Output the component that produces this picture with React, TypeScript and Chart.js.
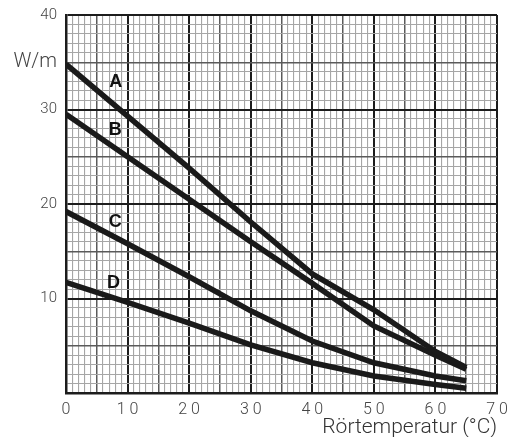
import React, { useEffect, useRef } from "react";
import { Chart, registerables } from "chart.js";

Chart.register(...registerables);

const temperatures = [0, 10, 20, 30, 40, 50, 60, 65];
const seriesA = [34.8, 29.3, 23.8, 18.1, 12.6, 8.8, 4.4, 2.7];
const seriesB = [29.5, 25.0, 20.5, 16.0, 11.6, 7.1, 4.0, 2.5];
const seriesC = [19.2, 15.8, 12.3, 8.7, 5.5, 3.2, 1.8, 1.3];
const seriesD = [11.7, 9.6, 7.4, 5.1, 3.2, 1.8, 0.9, 0.5];

const curveNames = ["A", "B", "C", "D"];
const curveLabelX = [8.1, 8.0, 8.0, 7.7];
const curveLabelY = [32.9, 27.8, 18.1, 11.6];

const xTickValues = [0, 10, 20, 30, 40, 50, 60, 70];
const xTickTexts = ["0", "1 0", "2 0", "3 0", "4 0", "5 0", "6 0", "7 0"];
const yTickValues = [10, 20, 30, 35, 40];
const yTickTexts = ["10", "20", "30", "W/m", "40"];

const xTitle = "Rörtemperatur (°C)";

const gridColor = (v: number) =>
  v % 10 === 0 ? "#1c1c1c" : v % 5 === 0 ? "#5a5a5a" : "#a6a6a6";
const gridWidth = (v: number) =>
  v % 10 === 0 ? 2 : v % 5 === 0 ? 1.5 : 1.1;

const curveLabelPlugin = {
  id: "curveLabels",
  afterDatasetsDraw(chart: any) {
    const { ctx, scales } = chart;
    ctx.save();
    ctx.font = "bold 18px 'Liberation Sans', Arial, sans-serif";
    ctx.fillStyle = "#111";
    ctx.textAlign = "center";
    ctx.textBaseline = "middle";
    curveNames.forEach((n, i) => {
      ctx.fillText(
        n,
        scales.x.getPixelForValue(curveLabelX[i]),
        scales.y.getPixelForValue(curveLabelY[i])
      );
    });
    ctx.restore();
  },
};

export default function App() {
  const ref = useRef<HTMLCanvasElement | null>(null);
  useEffect(() => {
    if (!ref.current) return;
    const mk = (d: number[]) => ({
      data: temperatures.map((t, i) => ({ x: t, y: d[i] })),
      borderColor: "#1a1a1a",
      borderWidth: 5.5,
      pointRadius: 0,
      tension: 0,
      fill: false,
    });
    const chart = new Chart(ref.current, {
      type: "line",
      data: { datasets: [mk(seriesA), mk(seriesB), mk(seriesC), mk(seriesD)] },
      options: {
        animation: false,
        responsive: true,
        maintainAspectRatio: false,
        layout: { padding: { left: 0, right: 12, top: 15, bottom: 0 } },
        plugins: { legend: { display: false }, tooltip: { enabled: false } },
        scales: {
          x: {
            type: "linear",
            min: 0,
            max: 70,
            afterFit: (s: any) => {
              s.height = 44;
              s.paddingLeft = 0;
              s.paddingRight = 0;
            },
            afterBuildTicks: (s: any) => {
              const t = [];
              for (let v = 0; v <= 70; v++) t.push({ value: v });
              s.ticks = t;
            },
            ticks: {
              autoSkip: false,
              maxRotation: 0,
              minRotation: 0,
              padding: 7,
              color: "#444",
              font: { family: "Roboto", size: 16, weight: 300 },
              callback: (v: any) => {
                const i = xTickValues.indexOf(Number(v));
                return i >= 0 ? xTickTexts[i] : "";
              },
            },
            grid: {
              drawTicks: false,
              color: (c: any) => gridColor(c.tick.value),
              lineWidth: (c: any) => gridWidth(c.tick.value),
            },
            border: { display: true, color: "#1c1c1c", width: 2.5 },
            title: {
              display: true,
              text: xTitle,
              align: "end",
              color: "#333",
              font: { family: "Roboto", size: 21, weight: 300 },
              padding: { top: 0, bottom: -3 },
            },
          },
          y: {
            type: "linear",
            min: 0,
            max: 40,
            afterFit: (s: any) => {
              s.width = 66;
              s.paddingTop = 0;
              s.paddingBottom = 0;
            },
            afterBuildTicks: (s: any) => {
              const t = [];
              for (let v = 0; v <= 40; v++) t.push({ value: v });
              s.ticks = t;
            },
            ticks: {
              autoSkip: false,
              padding: 9,
              color: "#444",
              font: (c: any) => ({
                family: "Roboto",
                size: c.tick && c.tick.value === 35 ? 20 : 15,
                weight: 300,
              }),
              callback: (v: any) => {
                const i = yTickValues.indexOf(Number(v));
                return i >= 0 ? yTickTexts[i] : "";
              },
            },
            grid: {
              drawTicks: false,
              color: (c: any) => gridColor(c.tick.value),
              lineWidth: (c: any) => gridWidth(c.tick.value),
            },
            border: { display: true, color: "#1c1c1c", width: 2.5 },
          },
        },
      },
      plugins: [curveLabelPlugin],
    });
    return () => chart.destroy();
  }, []);
  return (
    <div style={{ position: "absolute", left: 0, top: 0, width: 509, height: 437 }}>
      <canvas ref={ref} />
    </div>
  );
}
